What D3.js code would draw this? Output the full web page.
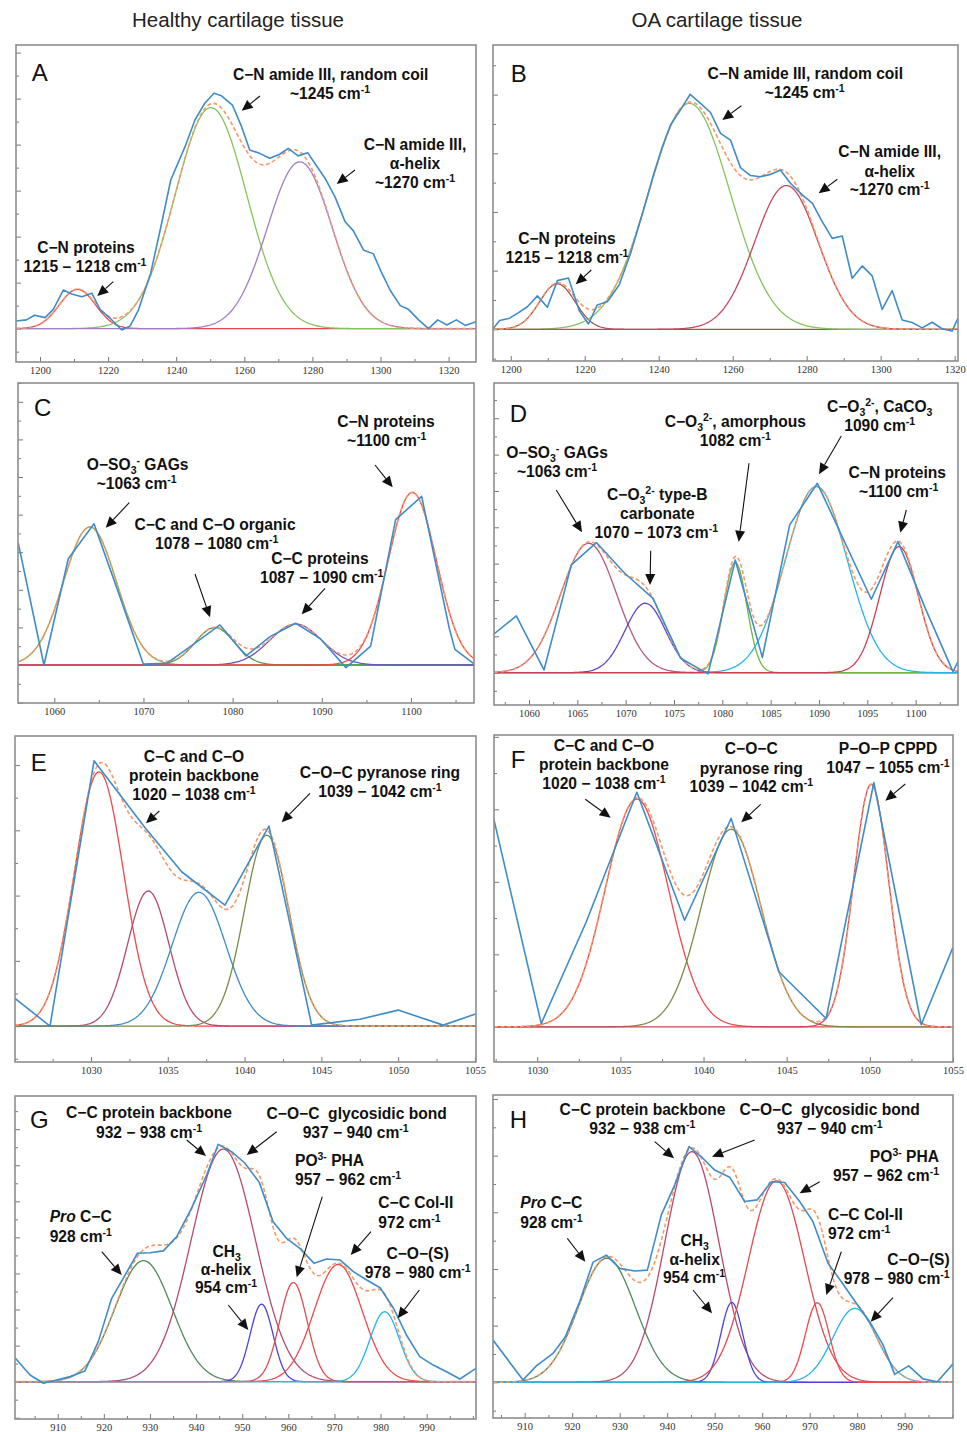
<!doctype html>
<html>
<head>
<meta charset="utf-8">
<script src="https://cdn.jsdelivr.net/npm/d3@7"></script>
<style>
  body { margin: 0; background: #fff; }
  svg { display: block; }
</style>
</head>
<body>
<svg width="967" height="1432"></svg>
<script>

// ---- measured spectra [wavenumber, intensity] ----
var specA = [[1192.95,0.33],[1196,0.38],[1198.4,0.58],[1201.5,0.48],[1203.9,0.84],[1206.9,1.68],[1209.3,1.51],[1212.3,1.39],[1215.2,1.54],[1217.6,0.84],[1220.6,0.45],[1224,-0.06],[1226.5,0.12],[1228.9,0.81],[1232.5,2.41],[1235.5,4.43],[1238.4,6.46],[1242.6,7.91],[1245.5,9.07],[1248.4,9.8],[1251.1,10.23],[1253.3,10.12],[1256.5,9.72],[1259.2,8.78],[1261.6,7.77],[1264.5,7.62],[1267.5,7.41],[1270.4,7.58],[1272.9,7.84],[1275.8,7.51],[1278.6,7.65],[1280.7,7.19],[1283.7,6.54],[1286.6,5.74],[1289.6,4.65],[1292,4.26],[1295,3.42],[1297.9,3.25],[1300.4,2.41],[1302.8,1.68],[1305.8,1.0],[1308.2,0.84],[1311.2,0.38],[1314.1,0.0],[1316.8,0.38],[1319.5,0.16],[1322.3,0.38],[1324.9,0.14],[1328.05,0.3]];
var specB = [[1195.2,0.02],[1197,0.3],[1199.7,0.38],[1201.9,0.55],[1204.5,0.77],[1207.2,1.14],[1209.9,0.75],[1212.6,1.66],[1215.6,1.75],[1218.5,0.64],[1221,0.18],[1223.4,0.83],[1226.1,0.94],[1229.3,1.51],[1232.4,2.59],[1235.6,3.95],[1238.7,5.32],[1241,6.23],[1243.2,6.97],[1245.9,7.48],[1248.5,8.01],[1251.3,7.7],[1254,7.39],[1256.7,6.68],[1259.4,6.45],[1262.1,5.51],[1264.8,5.24],[1267.5,5.2],[1270.2,5.28],[1272.9,5.43],[1275.6,4.98],[1278.8,4.58],[1281.5,4.3],[1284.2,3.67],[1286.9,3.1],[1289.6,3.18],[1292.3,1.74],[1295,2.16],[1297.7,1.82],[1300.4,0.68],[1303.1,1.32],[1305.8,0.32],[1308.5,0.23],[1311.2,0.05],[1313.9,0.24],[1316.6,0.02],[1319.3,-0.06],[1320.9,0.38]];
var specC = [[1055.96,6.48],[1058.84,0],[1061.57,5.65],[1064.45,7.51],[1067.2,3.85],[1069.98,0.05],[1072.6,0.09],[1075.6,1.1],[1078.58,2.13],[1081.5,0.48],[1084.19,1.51],[1087.07,2.22],[1089.79,1.42],[1092.71,-0.14],[1095.48,1.01],[1098.28,7.73],[1101.2,8.97],[1104.3,1.95],[1104.93,0.83],[1107.0,0.09]];
var specD = [[1056.38,2.13],[1058.69,3.12],[1061.55,0.15],[1064.38,5.93],[1066.97,7.16],[1069.9,5.47],[1072.83,4.09],[1075.69,0.79],[1078.52,-0.07],[1081.34,6.2],[1084.14,0.84],[1086.97,8.13],[1089.83,10.42],[1095.41,4.04],[1098.17,7.21],[1101.0,3.54],[1103.86,0.06],[1104.38,0.61]];
var specE = [[1025.05,0.85],[1027.33,0],[1030.2,8.13],[1033.52,6.08],[1035.9,4.73],[1038.72,3.71],[1041.59,6.13],[1044.37,0.03],[1047.51,0.21],[1050.0,0.49],[1052.94,0.03],[1055.04,0.37]];
var specF = [[1027.39,5.73],[1030.24,0.09],[1032.95,2.9],[1035.99,6.47],[1038.86,2.94],[1041.66,5.75],[1044.53,1.52],[1047.37,0.23],[1050.24,6.74],[1053.09,0.06],[1054.99,2.19]];
var specG = [[900.74,1.33],[904,0.37],[906.9,-0.09],[909.8,0.09],[912.7,0.28],[915.9,0.59],[918.8,2.22],[921.7,4.62],[924.6,5.91],[927.3,7.12],[930,7.15],[932.9,7.25],[935.8,8.04],[939,9.61],[942.3,11.46],[944.8,13.16],[947.7,12.75],[950.6,12.11],[953.7,11.05],[956.7,8.87],[959.6,7.95],[962.5,7.39],[965.6,6.56],[968.3,6.8],[971.2,6.75],[974.1,6.1],[977,5.64],[979.9,5.21],[982.8,4.07],[985.6,2.59],[988.5,1.39],[991.4,0.92],[994.3,0.55],[997.2,0.15],[1000.69,0.74]];
var specH = [[903.33,1.49],[909.65,0.08],[912.46,0.58],[915.96,1.02],[918.56,1.61],[921.58,2.85],[924.39,4.24],[927.19,4.49],[930,4.02],[933.16,3.93],[935.82,3.96],[938.77,5.91],[941.58,6.96],[944.6,8.32],[947.19,7.96],[950,7.49],[953.16,7.24],[956.32,6.38],[958.98,6.44],[961.93,7.08],[964.74,7.05],[967.89,6.38],[970.7,5.67],[973.86,4.2],[976.67,3.55],[979.82,2.79],[982.63,2.14],[985.44,1.32],[987.89,0.28],[990.84,0.58],[993.86,0.12],[996.88,0.02],[1000.18,0.65]];

// ---- fitted bands: centre (cm-1), height, gaussian sigma ----
var bandCenterA = [1211, 1250.2, 1276.3];
var bandHeightA = [1.71, 9.61, 7.25];
var bandSigmaA  = [5.3, 10.5, 9.5];
var bandCenterB = [1212.6, 1248.3, 1274.5];
var bandHeightB = [1.55, 7.7, 4.9];
var bandSigmaB  = [4.8, 11, 8.6];
var bandCenterC = [1064.0, 1078.0, 1087.07, 1100.15];
var bandHeightC = [7.34, 1.99, 2.18, 9.18];
var bandSigmaC  = [2.95, 2.2, 2.9, 2.7];
var bandCenterD = [1066.17, 1072.03, 1081.34, 1089.72, 1098.28];
var bandHeightD = [7.12, 3.82, 6.06, 10.24, 6.94];
var bandSigmaD  = [2.9, 2.1, 1.2, 3.2, 2.0];
var bandCenterE = [1030.52, 1033.73, 1037.03, 1041.44];
var bandHeightE = [7.79, 4.14, 4.1, 5.85];
var bandSigmaE  = [1.6, 1.35, 1.75, 1.45];
var bandCenterF = [1035.99, 1041.66, 1050.08];
var bandHeightF = [6.28, 5.45, 6.69];
var bandSigmaF  = [1.9, 1.8, 1.05];
var bandCenterG = [928.6, 945.9, 954.2, 961.1, 970.8, 980.9];
var bandHeightG = [6.71, 12.9, 4.3, 5.5, 6.5, 3.88];
var bandSigmaG  = [6.2, 7.0, 2.5, 3.0, 5.2, 3.2];
var bandCenterH = [927.3, 945.2, 953.6, 963.0, 971.6, 979.5];
var bandHeightH = [4.38, 8.14, 2.82, 7.11, 2.81, 2.61];
var bandSigmaH  = [6.0, 5.7, 2.3, 5.9, 2.5, 4.6];

// ---- tick labels ----
var xTicksAB = [1200, 1220, 1240, 1260, 1280, 1300, 1320];
var xTicksC  = [1060, 1070, 1080, 1090, 1100];
var xTicksD  = [1060, 1065, 1070, 1075, 1080, 1085, 1090, 1095, 1100];
var xTicksEF = [1030, 1035, 1040, 1045, 1050, 1055];
var xTicksGH = [910, 920, 930, 940, 950, 960, 970, 980, 990];

// ---- colours of the bands ----
var red = "#e8474c", green = "#86c35e", maroon = "#b34c6c", olive = "#7a8b45",
    violet = "#4b40e0", cyan = "#22b6e8", dkgreen = "#4e8a5a";
var bandColorA = [red, green, "#a27cc6"];
var bandColorB = ["#a8524c", green, "#c4485e"];
var bandColorC = ["#82ab44", "#3f9f45", "#6a52c8", "#f0464a"];
var bandColorD = ["#b45a7c", "#5a48c8", "#6cb83c", cyan, "#cc3f4f"];
var bandColorE = ["#f0474a", maroon, "#3d8bc9", olive];
var bandColorF = ["#f0474a", olive, "#d8405a"];
var bandColorG = [dkgreen, maroon, violet, "#e04a50", "#f0484c", cyan];
var bandColorH = [dkgreen, maroon, violet, "#e04a50", "#f0484c", cyan];

// ---- panel layout ----
var panels = [
  {id:"A", box:[16,45,476,362],   xd:[1192.95,1328.05], yd:[-1.45,12.33], spec:specA, c:bandCenterA, h:bandHeightA, s:bandSigmaA, col:bandColorA, ticks:xTicksAB, minor:10,  letter:[31.7,80.7]},
  {id:"B", box:[493,45,958,361],  xd:[1195.2,1320.9],   yd:[-1.08,9.69],  spec:specB, c:bandCenterB, h:bandHeightB, s:bandSigmaB, col:bandColorB, ticks:xTicksAB, minor:10,  letter:[510.7,82.3]},
  {id:"C", box:[18,383,474,703],  xd:[1055.93,1107.07], yd:[-2.02,15.0],  spec:specC, c:bandCenterC, h:bandHeightC, s:bandSigmaC, col:bandColorC, ticks:xTicksC,  minor:5,   letter:[34,415.7]},
  {id:"D", box:[494,383,958,705], xd:[1056.38,1104.38], yd:[-1.78,15.94], spec:specD, c:bandCenterD, h:bandHeightD, s:bandSigmaD, col:bandColorD, ticks:xTicksD,  minor:2.5, letter:[509.7,421.7]},
  {id:"E", box:[15,736,476,1062], xd:[1025.05,1055.07], yd:[-1.10,8.89],  spec:specE, c:bandCenterE, h:bandHeightE, s:bandSigmaE, col:bandColorE, ticks:xTicksEF, minor:2.5, letter:[30.7,771]},
  {id:"F", box:[494,735,953,1062],xd:[1027.4,1055.0],   yd:[-0.97,8.05],  spec:specF, c:bandCenterF, h:bandHeightF, s:bandSigmaF, col:bandColorF, ticks:xTicksEF, minor:2.5, letter:[510.7,768.3]},
  {id:"G", box:[15,1096,476,1419],xd:[900.74,1000.69],  yd:[-2.07,15.84], spec:specG, c:bandCenterG, h:bandHeightG, s:bandSigmaG, col:bandColorG, ticks:xTicksGH, minor:5,   letter:[30,1127.7]},
  {id:"H", box:[493,1095,953,1418],xd:[903.33,1000.17], yd:[-1.26,10.14], spec:specH, c:bandCenterH, h:bandHeightH, s:bandSigmaH, col:bandColorH, ticks:xTicksGH, minor:5,   letter:[509.7,1127.7]}
];

// ---- annotations: [x, y, anchor, text]  (^{} superscript, _{} subscript, ** italic) ----
var notes = {
  A: [[330.7,80,"middle","C−N amide III, random coil"],[330,99.3,"middle","~1245 cm^{-1}"],
      [415,150,"middle","C−N amide III,"],[415,169.3,"middle","α-helix"],[415,187.7,"middle","~1270 cm^{-1}"],
      [86,253.3,"middle","C−N proteins"],[85,271.7,"middle","1215 – 1218 cm^{-1}"]],
  B: [[805.3,79,"middle","C−N amide III, random coil"],[804.7,98.3,"middle","~1245 cm^{-1}"],
      [889.7,157.3,"middle","C−N amide III,"],[889.7,176.7,"middle","α-helix"],[889.7,195,"middle","~1270 cm^{-1}"],
      [567,244,"middle","C−N proteins"],[567,262.7,"middle","1215 – 1218 cm^{-1}"]],
  C: [[386,427.3,"middle","C−N proteins"],[386.7,446,"middle","~1100 cm^{-1}"],
      [137.7,470,"middle","O−SO_{3}^{-} GAGs"],[136.7,489.3,"middle","~1063 cm^{-1}"],
      [215,530,"middle","C−C and C−O organic"],[216.7,549.3,"middle","1078 − 1080 cm^{-1}"],
      [320,564,"middle","C−C proteins"],[321.7,583.3,"middle","1087 − 1090 cm^{-1}"]],
  D: [[735.3,427.3,"middle","C−O_{3}^{2-}, amorphous"],[735.3,446,"middle","1082 cm^{-1}"],
      [879.7,411.7,"middle","C−O_{3}^{2-}, CaCO_{3}"],[879.7,430.7,"middle","1090 cm^{-1}"],
      [557,457.7,"middle","O−SO_{3}^{-} GAGs"],[557,476.7,"middle","~1063 cm^{-1}"],
      [657.3,500,"middle","C−O_{3}^{2-} type-B"],[657.3,519,"middle","carbonate"],[656.3,537.7,"middle","1070 − 1073 cm^{-1}"],
      [897.3,478.3,"middle","C−N proteins"],[898.7,497.3,"middle","~1100 cm^{-1}"]],
  E: [[194,761.7,"middle","C−C and C−O"],[194,781,"middle","protein backbone"],[194,800,"middle","1020 − 1038 cm^{-1}"],
      [380,778.3,"middle","C−O−C pyranose ring"],[380,796.7,"middle","1039 − 1042 cm^{-1}"]],
  F: [[604,751,"middle","C−C and C−O"],[604,770,"middle","protein backbone"],[604,789,"middle","1020 − 1038 cm^{-1}"],
      [751.3,754.3,"middle","C−O−C"],[751.3,774.3,"middle","pyranose ring"],[751.3,792.3,"middle","1039 − 1042 cm^{-1}"],
      [888,754.3,"middle","P−O−P CPPD"],[888,773.3,"middle","1047 − 1055 cm^{-1}"]],
  G: [[149,1118.3,"middle","C−C protein backbone"],[149,1137.7,"middle","932 − 938 cm^{-1}"],
      [356.7,1119.3,"middle","C−O−C  glycosidic bond"],[355.7,1138.3,"middle","937 − 940 cm^{-1}"],
      [295,1165.7,"start","PO^{3-} PHA"],[295,1185,"start","957 − 962 cm^{-1}"],
      [378.3,1208.3,"start","C−C Col-II"],[378.3,1228.3,"start","972 cm^{-1}"],
      [417.7,1259.3,"middle","C−O−(S)"],[417.7,1278.3,"middle","978 − 980 cm^{-1}"],
      [49.7,1222.3,"start","*Pro* C−C"],[49.7,1241.7,"start","928 cm^{-1}"],
      [226.7,1256.7,"middle","CH_{3}"],[226,1275,"middle","α-helix"],[226,1293.3,"middle","954 cm^{-1}"]],
  H: [[642.5,1115,"middle","C−C protein backbone"],[642.3,1134.3,"middle","932 − 938 cm^{-1}"],
      [829.7,1115,"middle","C−O−C  glycosidic bond"],[829.7,1134.3,"middle","937 − 940 cm^{-1}"],
      [939,1161.7,"end","PO^{3-} PHA"],[939,1181,"end","957 − 962 cm^{-1}"],
      [520.3,1208.3,"start","*Pro* C−C"],[520.3,1227.7,"start","928 cm^{-1}"],
      [694.7,1245.7,"middle","CH_{3}"],[694.7,1265,"middle","α-helix"],[694,1283.3,"middle","954 cm^{-1}"],
      [828,1220,"start","C−C Col-II"],[828,1239,"start","972 cm^{-1}"],
      [949.7,1265,"end","C−O−(S)"],[949.7,1284.3,"end","978 − 980 cm^{-1}"]]
};

// arrows: [fromX, fromY, toX, toY]
var arrows = {
  A: [[260,96,241.7,110.7],[355,170,336.7,184],[113.3,281.7,97.3,296]],
  B: [[741.3,105.7,722.3,120],[837.3,179.3,818.7,193.3],[591.3,270,575.7,284.3]],
  C: [[375,465,392.7,487.3],[129.3,502.7,105.7,527.7],[195,574,210,617.3],[325,588.3,301.7,614.3]],
  D: [[556.3,490,582,532.3],[650.7,550.7,650,585],[749,463.3,738.7,541.7],[841.3,436,819,474.3],[906.3,510,900.3,532.7]],
  E: [[159.3,811,146,823.3],[310,793.3,281.7,822.3]],
  F: [[585.3,799.3,610.7,817.7],[760.7,804.3,741.3,822.3],[905.3,784,885.3,800.7]],
  G: [[186.7,1140,206,1156],[276.7,1131.7,246.7,1155],[322.3,1196.7,296.7,1277.3],[371,1231.7,350.7,1255],
      [419.3,1290,397.7,1318.3],[101.7,1251.7,121.7,1275],[228.3,1305,248.3,1330]],
  H: [[654.7,1141.7,674,1158.3],[754.7,1140,712,1156.7],[819.7,1181.7,799.7,1193.3],[567.3,1238.3,585.3,1261.7],
      [693,1290,712,1313.3],[841.3,1251.7,826.3,1295],[893,1297.7,870.7,1321.7]]
};

var svg = d3.select("svg");
svg.append("rect").attr("width", 967).attr("height", 1432).attr("fill", "#fff");

svg.append("text").attr("x", 238).attr("y", 27).attr("text-anchor", "middle")
   .attr("font-family", "Liberation Sans, Arial, sans-serif").attr("font-size", 20.5).attr("fill", "#222")
   .text("Healthy cartilage tissue");
svg.append("text").attr("x", 717).attr("y", 27).attr("text-anchor", "middle")
   .attr("font-family", "Liberation Sans, Arial, sans-serif").attr("font-size", 20.5).attr("fill", "#222")
   .text("OA cartilage tissue");

function gauss(c, h, s) {
  return function(x) { var z = (x - c) / s; return h * Math.exp(-0.5 * z * z); };
}

function richText(sel, str) {
  var parts = str.split(/(\^\{[^}]*\}|_\{[^}]*\}|\*[^*]*\*)/).filter(function(s) { return s.length; });
  var cur = 0;
  parts.forEach(function(s) {
    var off = 0, txt = s, small = false, ital = false;
    if (s[0] === "^") { off = -6; txt = s.slice(2, -1); small = true; }
    else if (s[0] === "_") { off = 4; txt = s.slice(2, -1); small = true; }
    else if (s[0] === "*") { txt = s.slice(1, -1); ital = true; }
    var ts = sel.append("tspan").text(txt);
    if (off !== cur) ts.attr("dy", off - cur);
    if (small) ts.attr("font-size", 10.5);
    if (ital) ts.attr("font-style", "italic");
    cur = off;
  });
}

function drawArrow(g, a) {
  var dx = a[2] - a[0], dy = a[3] - a[1];
  var L = Math.sqrt(dx * dx + dy * dy), ux = dx / L, uy = dy / L;
  var hl = 11, hw = 5;
  var bx = a[2] - ux * hl, by = a[3] - uy * hl;
  g.append("line").attr("x1", a[0]).attr("y1", a[1]).attr("x2", bx).attr("y2", by)
   .attr("stroke", "#111").attr("stroke-width", 1.1);
  g.append("path")
   .attr("d", "M" + a[2] + "," + a[3] + "L" + (bx - uy * hw) + "," + (by + ux * hw) +
              "L" + (bx + uy * hw) + "," + (by - ux * hw) + "Z")
   .attr("fill", "#111");
}

panels.forEach(function(p) {
  var b = p.box;
  var xScale = d3.scaleLinear().domain(p.xd).range([b[0], b[2]]);
  var yScale = d3.scaleLinear().domain(p.yd).range([b[3], b[1]]);
  var g = svg.append("g").attr("id", "panel" + p.id);

  g.append("clipPath").attr("id", "clip" + p.id).append("rect")
   .attr("x", b[0]).attr("y", b[1]).attr("width", b[2] - b[0]).attr("height", b[3] - b[1]);

  // x axis: ticks point up into the frame, labels below
  var minorVals = d3.range(Math.ceil(p.xd[0] / p.minor) * p.minor, p.xd[1], p.minor)
                    .filter(function(v) { return p.ticks.indexOf(v) < 0; });
  var xAxis = d3.axisBottom(xScale).tickValues(p.ticks).tickSize(-5).tickPadding(5)
                .tickFormat(d3.format("d"));
  var xMinor = d3.axisBottom(xScale).tickValues(minorVals).tickSize(-3).tickFormat("");
  var gx = g.append("g").attr("transform", "translate(0," + b[3] + ")").call(xAxis);
  g.append("g").attr("transform", "translate(0," + b[3] + ")").call(xMinor).select(".domain").remove();
  gx.select(".domain").remove();
  gx.selectAll("text").attr("font-family", "Liberation Serif, Times New Roman, serif")
    .attr("font-size", 10.5).attr("fill", "#333");

  // y axis: unlabeled ticks on the left edge
  var yVals = d3.range(Math.ceil(p.yd[0]), Math.floor(p.yd[1]) + 1);
  var yMaj = d3.axisLeft(yScale).tickValues(yVals.filter(function(v) { return v % 2 === 0; }))
               .tickSize(-5).tickFormat("");
  var yMin = d3.axisLeft(yScale).tickValues(yVals.filter(function(v) { return v % 2 !== 0; }))
               .tickSize(-3).tickFormat("");
  var gy1 = g.append("g").attr("transform", "translate(" + b[0] + ",0)").call(yMaj);
  var gy2 = g.append("g").attr("transform", "translate(" + b[0] + ",0)").call(yMin);
  gy1.select(".domain").remove();
  gy2.select(".domain").remove();
  g.selectAll(".tick line").attr("stroke", "#777");

  // fitted bands and their sum
  var xs = d3.range(0, 401).map(function(i) { return p.xd[0] + i * (p.xd[1] - p.xd[0]) / 400; });
  var fns = p.c.map(function(c, i) { return gauss(c, p.h[i], p.s[i]); });
  var line = d3.line().x(function(d) { return xScale(d[0]); }).y(function(d) { return yScale(d[1]); })
               .curve(d3.curveLinear);
  var plot = g.append("g").attr("clip-path", "url(#clip" + p.id + ")");

  fns.forEach(function(f, i) {
    plot.append("path")
      .attr("d", line(xs.map(function(x) { return [x, f(x)]; })))
      .attr("fill", "none").attr("stroke", p.col[i]).attr("stroke-width", 1.3);
  });

  var sumPts = xs.map(function(x) { return [x, d3.sum(fns, function(f) { return f(x); })]; });
  plot.append("path").attr("d", line(sumPts))
      .attr("fill", "none").attr("stroke", "#f5986a").attr("stroke-width", 1.6)
      .attr("stroke-dasharray", "4,2.5");

  // measured spectrum
  plot.append("path").attr("d", line(p.spec))
      .attr("fill", "none").attr("stroke", "#3f8cc8").attr("stroke-width", 1.6)
      .attr("stroke-linejoin", "round");

  // frame
  g.append("rect").attr("x", b[0]).attr("y", b[1]).attr("width", b[2] - b[0]).attr("height", b[3] - b[1])
   .attr("fill", "none").attr("stroke", "#8e8e8e").attr("stroke-width", 1.6);

  // panel letter
  g.append("text").attr("x", p.letter[0]).attr("y", p.letter[1])
   .attr("font-family", "Liberation Sans, Arial, sans-serif").attr("font-size", 24).attr("fill", "#111")
   .text(p.id);

  // annotations
  notes[p.id].forEach(function(n) {
    var t = g.append("text").attr("x", n[0]).attr("y", n[1]).attr("text-anchor", n[2])
      .attr("font-family", "Liberation Sans, Arial, sans-serif").attr("font-weight", "bold")
      .attr("font-size", 15.6).attr("fill", "#111").style("white-space", "pre");
    richText(t, n[3]);
  });
  arrows[p.id].forEach(function(a) { drawArrow(g, a); });
});

</script>
</body>
</html>
